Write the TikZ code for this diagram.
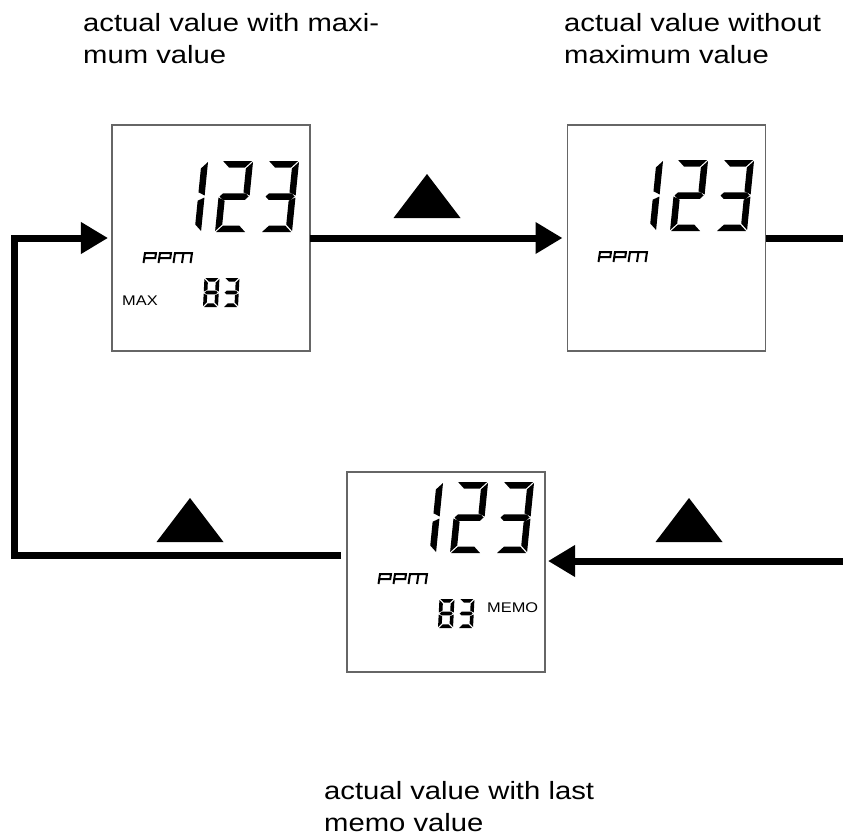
\documentclass[tikz,border=0pt]{standalone}
\usepackage{fontspec}
\setmainfont{Liberation Sans}
\newfontfamily\lblfont[FakeStretch=1.17]{Liberation Sans}
\usetikzlibrary{arrows.meta}

\tikzset{
  dispbox/.style={draw=black!60, line width=1.3bp, minimum width=198bp, minimum height=226bp, inner sep=0pt, outer sep=0pt},
  conn/.style={line width=7bp, line join=miter},
  tipped/.style={-{Triangle[length=27bp,width=30bp]}},
  lbl/.style={font=\lblfont\fontsize{25bp}{32bp}\selectfont, align=left, inner sep=0pt, anchor=base west},
  tag/.style={font=\lblfont\fontsize{14bp}{16bp}\selectfont, inner sep=0pt, anchor=base west},
  ghost/.style={text opacity=0, inner sep=0pt},
  ppmline/.style={line width=2bp, line join=miter},
}

% seven-segment pieces (local frame: y up, 0..\dH)
\def\sga{(\dG,\dH) -- (\dW-\dG,\dH) -- (\dW-\dG-\dT,\dH-\dT) -- (\dG+\dT,\dH-\dT) -- cycle}
\def\sgd{(\dG,0) -- (\dW-\dG,0) -- (\dW-\dG-\dT,\dT) -- (\dG+\dT,\dT) -- cycle}
\def\sgg{(\dG,\dH/2) -- (\dG+\dT/2,\dH/2+\dT/2) -- (\dW-\dG-\dT/2,\dH/2+\dT/2) -- (\dW-\dG,\dH/2) -- (\dW-\dG-\dT/2,\dH/2-\dT/2) -- (\dG+\dT/2,\dH/2-\dT/2) -- cycle}
\def\sgf{(0,\dH-\dG) -- (\dT,\dH-\dG-\dT) -- (\dT,\dH/2+\dG+\dT/2) -- (0,\dH/2+\dG) -- cycle}
\def\sgb{(\dW,\dH-\dG) -- (\dW-\dT,\dH-\dG-\dT) -- (\dW-\dT,\dH/2+\dG+\dT/2) -- (\dW,\dH/2+\dG) -- cycle}
\def\sge{(0,\dG) -- (\dT,\dG+\dT) -- (\dT,\dH/2-\dG-\dT/2) -- (0,\dH/2-\dG) -- cycle}
\def\sgc{(\dW,\dG) -- (\dW-\dT,\dG+\dT) -- (\dW-\dT,\dH/2-\dG-\dT/2) -- (\dW,\dH/2-\dG) -- cycle}

\newcommand\segdigit[7]{%
  \begin{scope}[shift={(#1,#2)},x=1bp,y=1bp,xslant=#6]
    \def\dW{#3}\def\dH{#4}\def\dT{#5}\def\dG{1}%
    \foreach \s in {#7}{\expandafter\fill\csname sg\s\endcsname;}
  \end{scope}}

% display content, origin = (box left, bottom of big digits)
\newcommand\dispcontent[2]{%
  \begin{scope}[shift={(#1,#2)}]
    \segdigit{58}{0}{31}{71}{6.5}{0.1}{b,c}
    \segdigit{103}{0}{31}{71}{6.5}{0.1}{a,b,g,e,d}
    \segdigit{149}{0}{31}{71}{6.5}{0.1}{a,b,g,c,d}
    \begin{scope}[shift={(33,21)},xslant=0.15]
      \draw[ppmline] (0,10) -- (0,0) -- (11,0) -- (11,5) -- (0,5);
      \draw[ppmline] (15,10) -- (15,0) -- (26,0) -- (26,5) -- (15,5);
      \draw[ppmline] (30,10) -- (30,0) -- (47,0) -- (47,10);
      \draw[ppmline] (38.5,0) -- (38.5,10);
    \end{scope}
  \end{scope}}

\newcommand\smalleightthree[2]{%
  \begin{scope}[shift={(#1,#2)}]
    \segdigit{91}{75}{15}{29}{3.6}{0.05}{a,b,c,d,e,f,g}
    \segdigit{111}{75}{15}{29}{3.6}{0.05}{a,b,g,c,d}
  \end{scope}}

\newcommand\uptri[2]{\fill (#1-33.5,#2) -- (#1,#2-44) -- (#1+33.5,#2) -- cycle;}

\begin{document}
\begin{tikzpicture}[x=1bp,y=-1bp]
  \useasboundingbox (0,0) rectangle (843,837);

  % labels (anchor = baseline of last line)
  \node[lbl] (l1) at (83,63) {actual value with maxi-\\mum value};
  \node[lbl] (l2) at (564,63) {actual value without\\maximum value};
  \node[lbl] (l3) at (324,831) {actual value with last\\memo value};

  % display boxes
  \node[dispbox] (b1) at (211,238) {};
  \node[dispbox] (b2) at (666.5,238) {};
  \node[dispbox, minimum height=200bp] (b3) at (446,572) {};

  % display contents
  \dispcontent{112}{232}
  \smalleightthree{112}{232}
  \node[tag] (max) at (122,305) {MAX};

  \dispcontent{567}{231}

  \dispcontent{347}{553}
  \smalleightthree{347}{553}
  \node[tag] (memo) at (487,612) {MEMO};

  % hidden real text for the segment readouts
  \node[ghost, font=\fontsize{60bp}{60bp}\selectfont, anchor=base east] (t1) at (300,232) {123};
  \node[ghost, font=\fontsize{60bp}{60bp}\selectfont, anchor=base east] (t2) at (755,231) {123};
  \node[ghost, font=\fontsize{60bp}{60bp}\selectfont, anchor=base east] (t3) at (535,553) {123};
  \node[ghost, font=\fontsize{12bp}{12bp}\selectfont, anchor=base west] (p1) at (145,263) {ppm};
  \node[ghost, font=\fontsize{12bp}{12bp}\selectfont, anchor=base west] (p2) at (600,262) {ppm};
  \node[ghost, font=\fontsize{12bp}{12bp}\selectfont, anchor=base west] (p3) at (380,584) {ppm};
  \node[ghost, font=\fontsize{28bp}{28bp}\selectfont, anchor=base west] (s1) at (203,307) {83};
  \node[ghost, font=\fontsize{28bp}{28bp}\selectfont, anchor=base west] (s3) at (438,628) {83};

  % connectors
  \coordinate (rt) at (847,238);
  \coordinate (rb) at (847,561);
  \coordinate (lb) at (14,555);
  \coordinate (lt) at (14,238);

  \draw[conn, tipped, shorten >=5bp] (b1.east) -- (b2.west);
  \draw[conn] (b2.east) -- (rt);
  \draw[conn, tipped, shorten >=3bp] (rb) -- (b3.east |- rb);
  \draw[conn, tipped, shorten <=6bp, shorten >=4bp] (b3.west |- lb) -- (lb) -- (lt) -- (b1.west);

  % key symbols
  \uptri{427}{218}
  \uptri{689}{542}
  \uptri{190}{542}
\end{tikzpicture}
\end{document}
